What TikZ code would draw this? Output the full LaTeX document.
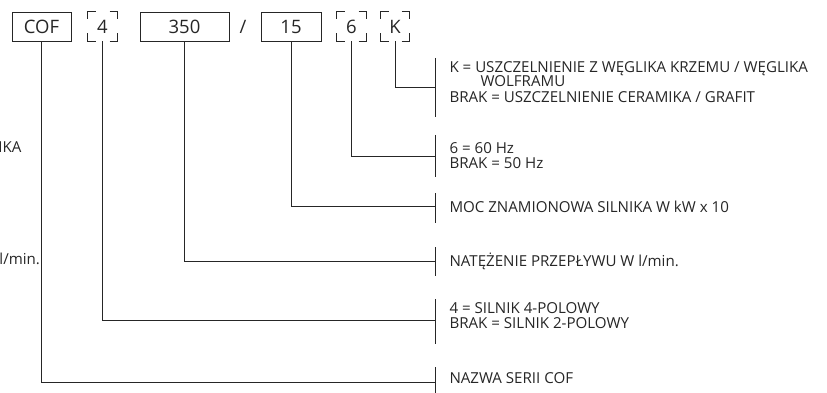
\documentclass[tikz,border=0pt]{standalone}
\usepackage{fontspec}
\setmainfont{Open Sans}
\definecolor{ink}{HTML}{262626}
\begin{document}
\begin{tikzpicture}[x=1pt,y=-1pt,
  line width=1pt, draw=ink,
  codebox/.style={draw=ink, line width=0.9pt, minimum height=29pt, inner sep=0pt, font=\fontsize{18.5}{20}\selectfont, text=ink},
  optbox/.style={minimum height=29pt, minimum width=29pt, inner sep=0pt, font=\fontsize{18.5}{20}\selectfont, text=ink},
  lbl/.style={anchor=base west, inner sep=0pt, font=\fontsize{15.1}{16}\selectfont, text=ink},
  conn/.style={draw=ink, line width=0.9pt}]
\useasboundingbox (0,0) rectangle (827,393);
% code boxes
\node[codebox, minimum width=59pt] (cof) at (41.5,26.5) {COF};
\node[optbox] (p4) at (102.5,26.5) {4};
\node[codebox, minimum width=89pt] (q350) at (184.5,26.5) {350};
\node[text=ink, font=\fontsize{18.5}{20}\selectfont, inner sep=0pt] (slash) at (243,26.5) {/};
\node[codebox, minimum width=60pt] (q15) at (291,26.5) {15};
\node[optbox] (p6) at (351.5,26.5) {6};
\node[optbox, minimum width=28pt] (pK) at (395,26.5) {K};
\foreach \n in {p4,p6,pK}{
  \draw[conn] ([xshift=8pt]\n.north west) -| ([yshift=-8pt]\n.north west);
  \draw[conn] ([xshift=-8pt]\n.north east) -| ([yshift=-8pt]\n.north east);
  \draw[conn] ([xshift=8pt]\n.south west) -| ([yshift=8pt]\n.south west);
  \draw[conn] ([xshift=-8pt]\n.south east) -| ([yshift=8pt]\n.south east);
}
% ticks
\coordinate (tK) at (435,87);
\coordinate (t6) at (435,156);
\coordinate (t15) at (435,206);
\coordinate (t350) at (435,261);
\coordinate (t4) at (435,320);
\coordinate (tcof) at (435,382);
\draw[conn] (435,58) -- (435,117);
\draw[conn] (435,135) -- (435,177);
\draw[conn] (435,193) -- (435,223);
\draw[conn] (435,247) -- (435,276);
\draw[conn] (435,299) -- (435,344);
\draw[conn] (435,367) -- (435,393);
% connectors
\draw[conn] (pK.south) |- (tK);
\draw[conn] (p6.south) |- (t6);
\draw[conn] (q15.south) |- (t15);
\draw[conn] (q350.south) |- (t350);
\draw[conn] (p4.south) |- (t4);
\draw[conn] (cof.south) |- (tcof);
% labels
\node[lbl] (lK1) at (449,73) {K = USZCZELNIENIE Z WĘGLIKA KRZEMU / WĘGLIKA};
\node[lbl] (lK2) at (480,87) {WOLFRAMU};
\node[lbl] (lK3) at (449,102.7) {BRAK = USZCZELNIENIE CERAMIKA / GRAFIT};
\node[lbl] (l6a) at (449,153.3) {6 = 60 Hz};
\node[lbl] (l6b) at (449,168.3) {BRAK = 50 Hz};
\node[lbl] (l15) at (449,212) {MOC ZNAMIONOWA SILNIKA W kW x 10};
\node[lbl] (l350) at (449,266) {NATĘŻENIE PRZEPŁYWU W l/min.};
\node[lbl] (l4a) at (449,313.3) {4 = SILNIK 4-POLOWY};
\node[lbl] (l4b) at (449,328.3) {BRAK = SILNIK 2-POLOWY};
\node[lbl] (lcof) at (449,383.3) {NAZWA SERII COF};
% clipped fragments at the left edge
\node[lbl, anchor=base east] (fr1) at (22,153) {IKA};
\node[lbl, anchor=base east] (fr2) at (40.5,264) {l/min.};
\end{tikzpicture}
\end{document}
